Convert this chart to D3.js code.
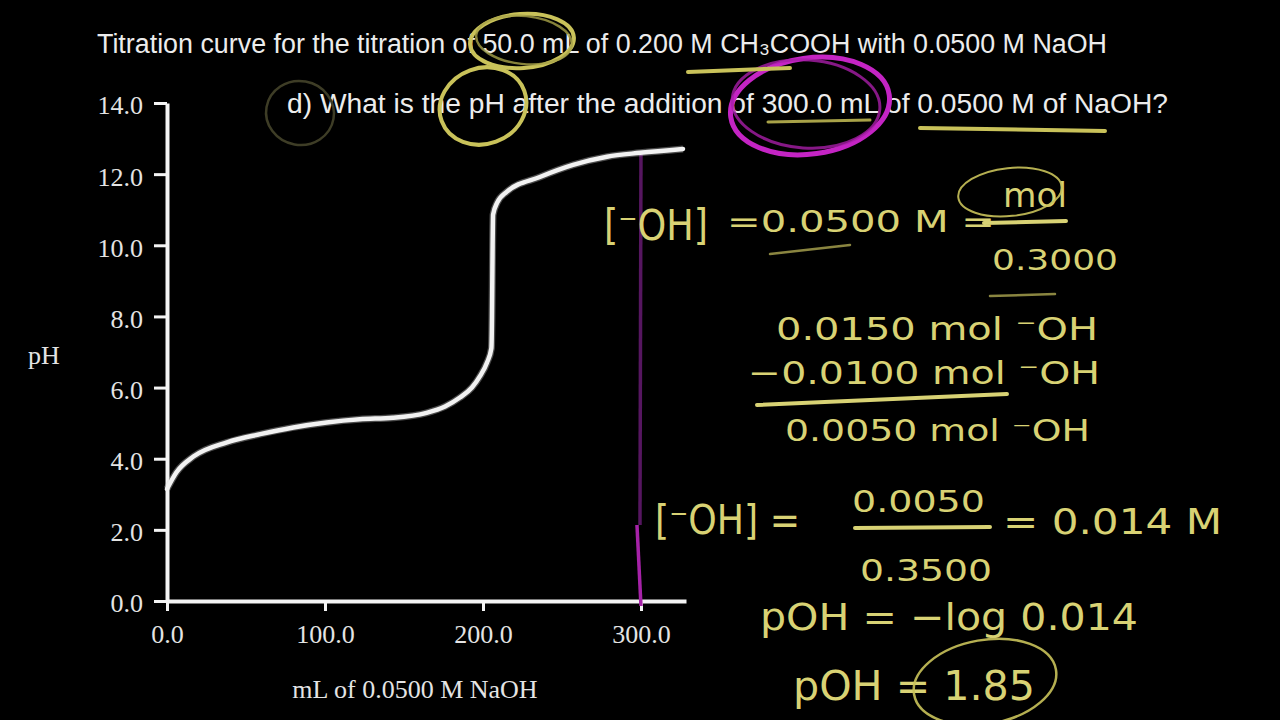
<!DOCTYPE html>
<html>
<head>
<meta charset="utf-8">
<script src="https://cdn.jsdelivr.net/npm/d3@7"></script>
<style>
  html, body { margin: 0; padding: 0; background: #000; }
  svg { display: block; }
</style>
</head>
<body>
<svg id="chart" width="1280" height="720"></svg>
<script>
// ---------------- data ----------------
const volumeML = [0, 6, 16.7, 38, 59, 80, 101, 122, 143, 164.3, 176, 185.4, 193, 198.1, 202.5, 205.3, 205.7, 205.9, 206.1, 206.4, 208.9, 215, 236, 257, 278.5, 299.4, 326.6];
const pHValues = [3.15, 3.62, 4.06, 4.46, 4.69, 4.88, 5.02, 5.11, 5.15, 5.29, 5.47, 5.72, 6.0, 6.32, 6.7, 7.1, 8.0, 9.0, 10.0, 10.86, 11.19, 11.5, 11.92, 12.26, 12.49, 12.6, 12.71];
const xTickValues = [0, 100, 200, 300];
const xTickLabels = ["0.0", "100.0", "200.0", "300.0"];
const yTickValues = [0, 2, 4, 6, 8, 10, 12, 14];
const yTickLabels = ["0.0", "2.0", "4.0", "6.0", "8.0", "10.0", "12.0", "14.0"];
const markedVolume = [300];
const xDomain = [0, 328.5];
const yDomain = [0, 14];

// ---------------- setup ----------------
const svg = d3.select("#chart");
svg.append("rect").attr("width", 1280).attr("height", 720).attr("fill", "#000");

const x = d3.scaleLinear().domain(xDomain).range([167, 686]);
const y = d3.scaleLinear().domain(yDomain).range([601, 103]);

const serif = "'Liberation Serif', 'Times New Roman', serif";
const sans = "'Liberation Sans', Arial, sans-serif";
const hand = "'DejaVu Sans', sans-serif";
const yellow = "#d8d274";

// ---------------- axes ----------------
const xAxis = d3.axisBottom(x).tickValues(xTickValues)
  .tickFormat((d, i) => xTickLabels[i]).tickSize(10).tickSizeOuter(0).tickPadding(14);
const yAxis = d3.axisLeft(y).tickValues(yTickValues)
  .tickFormat((d, i) => yTickLabels[i]).tickSize(13).tickSizeOuter(0).tickPadding(11);

const gx = svg.append("g").attr("transform", `translate(0,${y(0)})`).call(xAxis);
const gy = svg.append("g").attr("transform", `translate(${x(0)},0)`).call(yAxis);

[gx, gy].forEach(g => {
  g.select(".domain").attr("stroke", "#f4f4f4").attr("stroke-width", 4);
  g.selectAll(".tick line").attr("stroke", "#f4f4f4").attr("stroke-width", 3);
  g.selectAll(".tick text").attr("fill", "#e4e4e4")
    .style("font-family", serif).style("font-size", "26px");
});
gy.selectAll(".tick text").attr("dy", "0.42em");

// axis titles
svg.append("text").attr("x", 415).attr("y", 698).attr("text-anchor", "middle")
  .attr("fill", "#e4e4e4").style("font-family", serif).style("font-size", "26px")
  .text("mL of 0.0500 M NaOH");
svg.append("text").attr("x", 44).attr("y", 364).attr("text-anchor", "middle")
  .attr("fill", "#e4e4e4").style("font-family", serif).style("font-size", "26px")
  .text("pH");

// ---------------- marker line at 300 mL ----------------
markedVolume.forEach(v => {
  svg.append("line").attr("x1", x(v)).attr("x2", x(v) - 1).attr("y1", 152).attr("y2", 525)
    .attr("stroke", "#561660").attr("stroke-width", 3.5);
  svg.append("line").attr("x1", x(v) - 4).attr("x2", x(v)).attr("y1", 525).attr("y2", 606)
    .attr("stroke", "#a622a8").attr("stroke-width", 3.5);
});

// ---------------- curve ----------------
const line = d3.line().x((d, i) => x(volumeML[i])).y((d, i) => y(pHValues[i]))
  .curve(d3.curveMonotoneX);
svg.append("path").datum(pHValues).attr("d", line)
  .attr("fill", "none").attr("stroke", "#d8d8d8").attr("stroke-width", 7).attr("opacity", 0.35);
svg.append("path").datum(pHValues).attr("d", line)
  .attr("fill", "none").attr("stroke", "#f2f2f2").attr("stroke-width", 4.5)
  .attr("stroke-linecap", "round");

// ---------------- title ----------------
svg.append("text").attr("x", 97).attr("y", 53).attr("fill", "#ececec")
  .style("font-family", sans).style("font-size", "27px")
  .attr("textLength", 1010).attr("lengthAdjust", "spacingAndGlyphs")
  .text("Titration curve for the titration of 50.0 mL of 0.200 M CH₃COOH with 0.0500 M NaOH");

svg.append("text").attr("x", 287).attr("y", 113).attr("fill", "#ececec")
  .style("font-family", sans).style("font-size", "27px")
  .attr("textLength", 881).attr("lengthAdjust", "spacingAndGlyphs")
  .text("d)  What is the pH after the addition of 300.0 mL of 0.0500 M of NaOH?");

// ---------------- hand-drawn annotations ----------------
const ann = svg.append("g");
function ell(cx, cy, rx, ry, rot, color, w, op) {
  ann.append("ellipse").attr("cx", cx).attr("cy", cy).attr("rx", rx).attr("ry", ry)
    .attr("transform", `rotate(${rot},${cx},${cy})`)
    .attr("fill", "none").attr("stroke", color).attr("stroke-width", w).attr("opacity", op || 1);
}
function seg(x1, y1, x2, y2, color, w, op) {
  ann.append("line").attr("x1", x1).attr("y1", y1).attr("x2", x2).attr("y2", y2)
    .attr("stroke", color).attr("stroke-width", w).attr("stroke-linecap", "round").attr("opacity", op || 1);
}
function hw(txt, xx, yy, size, len) {
  const t = ann.append("text").attr("x", xx).attr("y", yy).attr("fill", yellow)
    .style("font-family", hand).style("font-size", size + "px").text(txt);
  if (len) t.attr("textLength", len).attr("lengthAdjust", "spacingAndGlyphs");
  return t;
}

// circles/underlines around the question text
ell(522, 41, 52, 27, -4, "#c9c25a", 4);
ell(524, 40, 48, 24, 6, "#a8a248", 2.5, 0.8);
ell(483, 106, 44, 38, -20, "#c9c25a", 4);
ell(300, 113, 34, 32, 10, "#3e3d26", 2.5);
ell(810, 106, 80, 48, -8, "#c424c4", 5);
ell(806, 104, 74, 44, 4, "#a81ea8", 3, 0.8);
seg(688, 72, 790, 68, "#c9c25a", 4);
seg(768, 122, 870, 120, "#a8a248", 3);
seg(920, 128, 1105, 131, "#c9c25a", 4);

// [OH-] = 0.0500 M = mol / 0.3000
hw("[⁻OH]", 604, 240, 42, 104);
hw("=0.0500 M =", 727, 232, 30, 268);
hw("mol", 1003, 207, 34, 64);
ell(1010, 192, 52, 24, -6, "#c9c25a", 2, 0.9);
seg(984, 223, 1066, 221, yellow, 4);
hw("0.3000", 992, 270, 28, 126);
seg(770, 254, 850, 245, "#8a8540", 2.5);
seg(990, 296, 1055, 294, "#8a8540", 2.5);

// mole subtraction
hw("0.0150  mol  ⁻OH", 776, 340, 32, 322);
hw("−0.0100  mol  ⁻OH", 748, 384, 32, 352);
seg(757, 405, 1007, 394, yellow, 4);
hw("0.0050  mol  ⁻OH", 785, 441, 30, 305);

// concentration
hw("[⁻OH]  =", 655, 534, 40, 145);
hw("0.0050", 852, 512, 30, 133);
seg(855, 528, 990, 527, yellow, 4);
hw("0.3500", 860, 581, 30, 132);
hw("= 0.014 M", 1003, 534, 36, 219);

// pOH
hw("pOH = −log 0.014", 760, 630, 38, 378);
hw("pOH = 1.85", 793, 700, 40, 242);
ell(985, 682, 72, 42, -10, "#c9c25a", 2.5, 0.9);
</script>
</body>
</html>
